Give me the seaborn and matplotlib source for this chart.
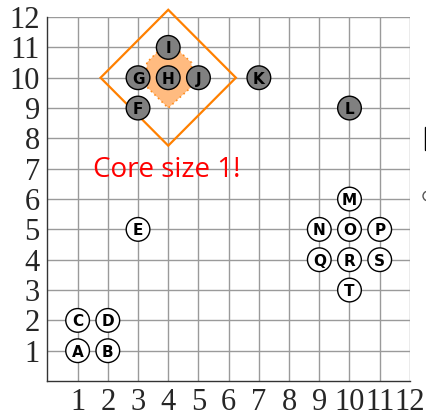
import matplotlib
matplotlib.use("Agg")
import matplotlib.pyplot as plt
import seaborn as sns
import pandas as pd
from matplotlib.patches import Polygon, Rectangle, Circle

# data
labels = ["A", "B", "C", "D", "E", "F", "G", "H", "I", "J", "K", "L",
          "M", "N", "O", "P", "Q", "R", "S", "T"]
xs = [1, 2, 1, 2, 3, 3, 3, 4, 4, 5, 7, 10, 10, 9, 10, 11, 9, 10, 11, 10]
ys = [1, 1, 2, 2, 5, 9, 10, 10, 11, 10, 10, 9, 6, 5, 5, 5, 4, 4, 4, 3]
core = ["F", "G", "H", "I", "J", "K", "L"]
ticks = list(range(1, 13))

outer_x = [4, 6.24, 4, 1.76]
outer_y = [12.24, 10, 7.76, 10]
inner_x = [4, 4.77, 4.77, 4, 3.29, 3.29]
inner_y = [11.2, 10.5, 9.7, 9.0, 9.7, 10.5]
annot_text = "Core size 1!"
annot_pos = (3.95, 6.95)

df = pd.DataFrame({"x": xs, "y": ys, "label": labels})
df["kind"] = ["core" if l in core else "other" for l in labels]

sns.set_style("white")
fig = plt.figure(figsize=(4.27, 4.16), dpi=100)
ax = fig.add_axes([0.111, 0.084, 0.849, 0.875])

ax.set_xlim(0, 12)
ax.set_ylim(0, 12)
ax.set_xticks(ticks)
ax.set_yticks(ticks)
for t in ticks:
    ax.axvline(t, color="#9a9a9a", lw=1.0, zorder=0)
    ax.axhline(t, color="#9a9a9a", lw=1.0, zorder=0)

ax.add_patch(Polygon(list(zip(inner_x, inner_y)), closed=True,
                     facecolor="#ffbb80", edgecolor="#ff8c1a", lw=1.2,
                     linestyle=(0, (1, 2)), zorder=1))
ax.add_patch(Polygon(list(zip(outer_x, outer_y)), closed=True,
                     facecolor="none", edgecolor="#ff8000", lw=1.6, zorder=2,
                     clip_on=False))

sns.scatterplot(data=df, x="x", y="y", hue="kind",
                palette={"core": "#808080", "other": "white"},
                s=290, edgecolor="black", linewidth=1.0, legend=False,
                ax=ax, zorder=3, clip_on=False)
for lx, ly, lab in zip(xs, ys, labels):
    ax.text(lx, ly, lab, ha="center", va="center_baseline", fontsize=11,
            fontweight="bold", family="DejaVu Sans", color="black", zorder=4)

ax.text(annot_pos[0], annot_pos[1], annot_text, color="red", fontsize=20,
        family="Open Sans", ha="center", va="center", zorder=5)

for side in ["top", "right"]:
    ax.spines[side].set_visible(False)
for side in ["left", "bottom"]:
    ax.spines[side].set_color("#333333")
    ax.spines[side].set_linewidth(1.0)

ax.tick_params(axis="both", direction="out", length=4, width=1,
               color="#333333", labelsize=22, pad=1.5)
ax.tick_params(axis="x", pad=1)
for lab in ax.get_xticklabels() + ax.get_yticklabels():
    lab.set_family("Liberation Serif")
ax.set_xlabel("")
ax.set_ylabel("")

# partially visible legend items at the right edge
fig.patches.append(Rectangle((425 / 427, 1 - 150 / 416), 0.05, 23 / 416,
                             transform=fig.transFigure, fill=False,
                             edgecolor="black", lw=1.0))
fig.patches.append(Circle((428 / 427, 1 - 196 / 416), 5 / 427,
                          transform=fig.transFigure, fill=False,
                          edgecolor="#555555", lw=1.0))

fig.savefig("out.png", dpi=100)
